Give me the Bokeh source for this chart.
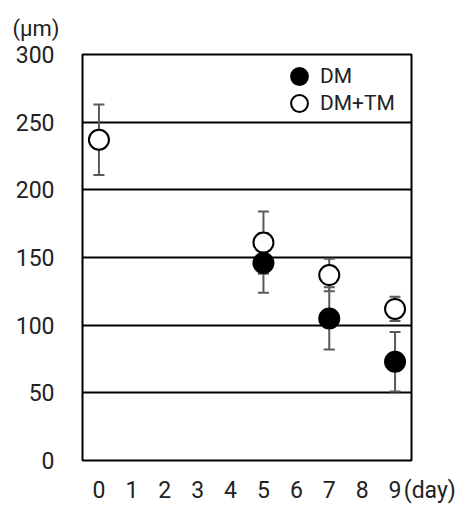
from bokeh.plotting import figure
from bokeh.models import ColumnDataSource, Whisker, TeeHead, Legend, LegendItem, FixedTicker, Range1d
from bokeh.embed import file_html
from bokeh.resources import INLINE

days = [0, 1, 2, 3, 4, 5, 6, 7, 8, 9]
dm_days = [5, 7, 9]
dm_mean = [146, 105, 73]
dm_err = [22, 23, 22]
tm_days = [0, 5, 7, 9]
tm_mean = [237, 161, 137, 112]
tm_err = [26, 23, 12, 9]
y_ticks = [0, 50, 100, 150, 200, 250, 300]
y_unit = "(μm)"
x_unit = "(day)"
x_unit_pos = 9.45

FONT = "Roboto"
TXT = "#222222"

p = figure(width=461, height=506, output_backend="svg", toolbar_location=None,
           x_range=Range1d(-0.5, 9.5), y_range=Range1d(0, 300),
           min_border_left=82, min_border_right=50, min_border_top=53, min_border_bottom=45)

p.title.text = y_unit
p.title.align = "left"
p.title.offset = -70
p.title.standoff = 27
p.title.text_font = FONT
p.title.text_font_size = "22px"
p.title.text_font_style = "normal"
p.title.text_color = TXT

p.outline_line_color = "black"
p.outline_line_width = 2
p.background_fill_color = "white"
p.border_fill_color = "white"

p.xgrid.visible = False
p.ygrid.ticker = FixedTicker(ticks=y_ticks)
p.ygrid.grid_line_color = "black"
p.ygrid.grid_line_width = 2

p.yaxis.ticker = FixedTicker(ticks=y_ticks)
p.xaxis.ticker = FixedTicker(ticks=days + [x_unit_pos])
overrides = {d: str(d) for d in days}
overrides[x_unit_pos] = "\u00a0" * 7 + x_unit
p.xaxis.major_label_overrides = overrides
for ax in (p.xaxis, p.yaxis):
    ax.axis_line_color = None
    ax.major_tick_line_color = None
    ax.minor_tick_line_color = None
    ax.major_tick_out = 0
    ax.major_tick_in = 0
    ax.minor_tick_out = 0
    ax.minor_tick_in = 0
    ax.major_label_text_font = FONT
    ax.major_label_text_font_size = "23px"
    ax.major_label_text_color = TXT
p.yaxis.major_label_standoff = 28
p.xaxis.major_label_standoff = 16

tm_src = ColumnDataSource(dict(x=tm_days, y=tm_mean,
                               lo=[m - e for m, e in zip(tm_mean, tm_err)],
                               hi=[m + e for m, e in zip(tm_mean, tm_err)]))
dm_src = ColumnDataSource(dict(x=dm_days, y=dm_mean,
                               lo=[m - e for m, e in zip(dm_mean, dm_err)],
                               hi=[m + e for m, e in zip(dm_mean, dm_err)]))

for src in (tm_src, dm_src):
    w = Whisker(source=src, base="x", upper="hi", lower="lo",
                line_color="#5a5a5a", line_width=2,
                upper_head=TeeHead(size=11, line_color="#5a5a5a", line_width=2),
                lower_head=TeeHead(size=11, line_color="#5a5a5a", line_width=2))
    p.add_layout(w)

r_tm = p.scatter("x", "y", source=tm_src, size=20, marker="circle",
                 fill_color="white", line_color="black", line_width=2)
r_dm = p.scatter("x", "y", source=dm_src, size=20, marker="circle",
                 fill_color="black", line_color="black", line_width=2)

legend_kw = dict(padding=0, margin=0, spacing=0, glyph_width=42, glyph_height=42,
                 label_height=20, label_standoff=0, border_line_color=None,
                 background_fill_alpha=0, label_text_font=FONT,
                 label_text_font_size="21px", label_text_color=TXT)
p.add_layout(Legend(items=[LegendItem(label="DM", renderers=[r_dm])],
                    location=(196, 363), **legend_kw))
p.add_layout(Legend(items=[LegendItem(label="DM+TM", renderers=[r_tm])],
                    location=(196, 336), **legend_kw))

open("out.html", "w").write(file_html(p, INLINE))
